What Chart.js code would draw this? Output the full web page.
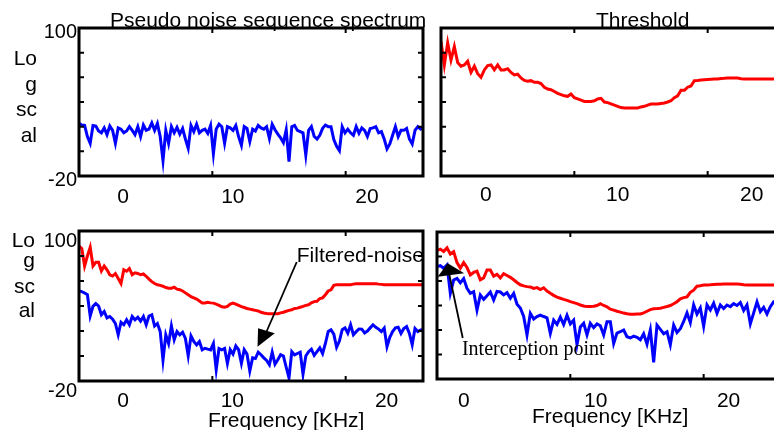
<!DOCTYPE html>
<html>
<head>
<meta charset="utf-8">
<title>Spectrum panels</title>
<script src="https://cdn.jsdelivr.net/npm/chart.js@4.4.1/dist/chart.umd.min.js"></script>
<style>
  html, body { margin: 0; padding: 0; background: #fff; }
  #fig { position: relative; width: 774px; height: 430px; overflow: hidden; }
  #fig canvas { position: absolute; }
</style>
</head>
<body>
<div id="fig">
  <canvas id="pnChart"  width="430" height="215" style="left:0;top:0"></canvas>
  <canvas id="thrChart" width="370" height="215" style="left:430px;top:0"></canvas>
  <canvas id="filtChart" width="430" height="215" style="left:0;top:215px"></canvas>
  <canvas id="icptChart" width="370" height="215" style="left:430px;top:215px"></canvas>
</div>
<script>
// ---- data (levels on the log scale, sampled along each frame) ----
const xMin = 0, xMax = 25.8;
const leftStep = 0.21;   // sample spacing in the two left panels
const rightStep = 0.25;  // sample spacing in the two right panels

// pseudo noise sequence spectrum
const pnLevel = [
  22.7, 21.3, 21, 12, 6.5, 21, 20.5, 16.5, 15, 19,
  13.5, 20.5, 17, 6.5, 19, 18, 15, 16.5, 20, 17,
  13.5, 20, 12, 21.3, 17, 18, 23, 17, 22.5, 12,
  -7.5, 17, 6.5, 20, 15, 19.5, 14, 18.5, 10, 2.5,
  21, 16, 22, 15, 17, 18, 14.5, 21, -2, 18,
  22, 20, 6.5, 20, 19, 17, 21, 12, 5, 20,
  18.5, 8, 18, 16.5, 21, 19, 18, 20, 10.5, 22,
  17.5, 14, 11, 7, 17.5, -8.4, 20, 21, 17, 16,
  15, -3, 17, 20, 12, 10, 13, 18.6, 21.3, 20,
  20, 9.5, 4, 0.5, 20, 15, 18, 15, 13, 20,
  14.6, 19, 17, 12, 18.5, 19, 20, 15, 16, 10,
  2, 6, 13, 20, 12, 17, 17, 18.6, 10, 6,
  17, 20, 18, 18.6
];

// threshold
const thrLevel = [
  89, 70, 88, 74, 85, 72, 69, 70, 73, 64,
  69, 63, 60, 66, 69.5, 70, 66, 70, 66, 66,
  67, 64, 62, 62.5, 59.5, 57.5, 56.8, 57.3, 56, 56,
  55, 52, 50.5, 50, 48.5, 47, 46, 45, 44.6, 46.5,
  43.5, 42.5, 41.5, 40.5, 40.5, 40.5, 41, 42.5, 43, 40,
  39.5, 38.5, 37.5, 36.5, 35.5, 35.1, 35.1, 35.1, 35.1, 35.1,
  36, 36.5, 37.5, 38.4, 38.4, 38.4, 38.8, 39.2, 40, 41,
  43.5, 45, 49.5, 49.5, 52, 53, 57.3, 57.5, 57.8, 58,
  58.2, 58.4, 58.6, 58.6, 59, 59.2, 59.5, 59.5, 59.5, 59.5,
  58.8, 58.6, 58.6, 58.6, 58.6, 58.6, 58.6, 58.6, 58.6, 58.6,
  58.6, 58.6
];

// filtered noise against its threshold
const filtThr = [
  88, 86, 72, 80, 87, 72, 75, 75, 68, 72,
  69, 65, 64, 66, 62, 58, 69, 67.8, 70, 65,
  66.5, 66, 65, 65.6, 63.8, 61.5, 59.5, 58, 57, 56.5,
  55.8, 54.8, 54.3, 54.3, 55, 53.5, 53, 52, 50.5, 49,
  47.5, 46.5, 45.5, 44, 42.5, 42.5, 43, 42.5, 42.3, 41.5,
  40.5, 39.4, 39, 39.7, 41.5, 42.3, 41.5, 40.5, 39.5, 38.8,
  38, 37.5, 37, 36.5, 36, 35, 34.4, 34, 33.8, 33.8,
  33.8, 33.8, 34.5, 35, 35.8, 36.5, 37, 38, 38.3, 39,
  39.7, 40.5, 41, 42.5, 43.5, 43.8, 46, 46.5, 49, 52,
  53, 56.5, 57, 57.1, 57.1, 57.1, 57.1, 57.1, 57.5, 57.8,
  57.8, 57.9, 57.9, 57.9, 57.9, 57.9, 57.9, 57.5, 57.3, 57.1,
  57.1, 57.1, 57.1, 57.1, 57.1, 57.1, 57.1, 57.1, 57.1, 57.1,
  57.1, 57.1, 57.1, 57.1
];
const filtNoise = [
  52, 51.5, 50.4, 49, 32, 39.7, 42, 40, 33, 35.6,
  30.5, 31.6, 29.5, 26, 17, 27, 25, 29, 25, 31.6,
  29, 31, 28, 31.6, 25, 32, 33, 24, 26, 19.6,
  -3.2, 16.9, 10, 24, 13, 19.6, 16.9, 19, 14, 0.2,
  16, 11.6, 8.9, 11.6, 5, 6.2, 5.5, 4.9, 10, -11,
  6, 5, 6, -6, 5, 1.5, 8, 5, -5.8, 5,
  1.5, -12, -1.5, -2, 3, 1, -1.5, -3.5, -7, 3,
  -6.5, -3, 1, 0, -9, -17.5, 3.5, 0.9, 2, 3,
  -14.5, 0, 3.5, 5.5, 0.5, 3.5, 6.5, 2, 10, 19.6,
  20.9, 17.5, 7, 12, 21, 22.5, 18.3, 24.9, 17, 19.5,
  21.6, 21.5, 18.5, 20, 22.5, 25, 23, 21.5, 19.5, 22.3,
  7.5, 15, 19.5, 22.5, 23, 18, 22, 23.5, 18, 9,
  22, 19.6, 20.9, 21
];

// interception: threshold and noise
const icptThr = [
  85, 86, 84, 87, 82, 84, 75, 70.5, 75, 71,
  65, 67, 68, 61, 62.5, 69, 69, 64, 65.5, 62.5,
  66, 64.5, 63, 61, 58.8, 56.9, 56, 55.4, 55.2, 54,
  54.6, 53, 54.5, 51.8, 50, 48.3, 46.8, 45.9, 45, 44.2,
  43.1, 42.3, 41.5, 40.4, 39.6, 39.1, 39.1, 39.4, 40, 41.5,
  40, 39, 37, 36.2, 35.3, 34.6, 33.8, 33.3, 32.9, 32.8,
  33, 33.1, 34, 35.3, 36.6, 37.3, 37.5, 37.8, 38.5, 39.2,
  40, 41.4, 43.1, 45.5, 46.4, 47, 50.8, 52.5, 55.8, 56.2,
  56.7, 56.8, 56.9, 57.1, 57.3, 57.3, 57.5, 57.5, 57.5, 57.5,
  57.5, 57.4, 57, 56.7, 56.7, 56.7, 56.7, 56.7, 56.7, 56.7,
  56.7, 56.7, 56.7
];
const icptNoise = [
  71.7, 72.5, 70.3, 73, 50, 60.8, 62.2, 58.5, 62, 54,
  50, 51.3, 36.3, 48.6, 45, 48, 51, 44.5, 51.5, 51,
  48.6, 50.5, 45.9, 49.9, 41, 38, 31, 16, 33.6, 29,
  31, 32.2, 31, 30, 17.3, 28, 24.5, 30.5, 24.5, 32,
  25, 28, 8, 22.5, 25.5, 16, 25.5, 22, 25, 23.5,
  16, 26.8, 26.8, 9, 17.5, 18.6, 20, 14.5, 13.5, 15,
  14, 12, 17, 8.5, 20, -6.5, 24, 20.5, 17, 18.6,
  8, 24, 18, 21, 27, 34, 26, 40.5, 33, 38,
  23, 40.5, 36.3, 41.8, 33.6, 40.4, 37.5, 40.4, 39, 41.5,
  40, 42.5, 36, 40.5, 25, 34, 43, 35, 38.5, 33,
  39, 43, 43
];

// axis ticks
const yTicks = [-20, 0, 20, 40, 60, 80, 100];
const yLabelled = [100, -20];
const frameMarks = [10, 20];
const tickText = ['0', '10', '20'];
// where the "0 10 20" labels sit along each frame
const pnTickPos   = [3.30, 11.54, 21.6];
const thrTickPos  = [3.37, 13.26, 23.30];
const filtTickPos = [3.30, 11.50, 23.07];
const icptTickPos = [2.02, 11.91, 21.87];

const SANS = '"Liberation Sans", Arial, sans-serif';
const SERIF = '"Liberation Serif", "Times New Roman", serif';
const BLUE = '#0000ff', RED = '#ff0000';

// frame, inward tick marks, arrows and free text
const decor = {
  id: 'decor',
  afterDatasetsDraw(chart, args, opts) {
    const { ctx, chartArea: a, scales: { x, y } } = chart;
    const px = v => x.getPixelForValue(v);
    const py = v => y.getPixelForValue(v);
    ctx.save();
    ctx.strokeStyle = '#000';
    ctx.lineWidth = 3;
    ctx.strokeRect(a.left, a.top, a.right - a.left, a.bottom - a.top);

    ctx.lineWidth = 2;
    ctx.beginPath();
    frameMarks.forEach(v => {
      ctx.moveTo(px(v), a.bottom); ctx.lineTo(px(v), a.bottom - 5);
      ctx.moveTo(px(v), a.top); ctx.lineTo(px(v), a.top + 5);
    });
    yTicks.forEach(v => {
      ctx.moveTo(a.left, py(v)); ctx.lineTo(a.left + 5, py(v));
      ctx.moveTo(a.right, py(v)); ctx.lineTo(a.right - 5, py(v));
    });
    ctx.stroke();

    (opts.arrows || []).forEach(ar => {
      ctx.fillStyle = '#000';
      ctx.lineWidth = 1.8;
      ctx.beginPath();
      ctx.moveTo(px(ar.from[0]), py(ar.from[1]));
      ctx.lineTo(px(ar.to[0]), py(ar.to[1]));
      ctx.stroke();
      ctx.beginPath();
      ar.head.forEach((p, i) => (i ? ctx.lineTo : ctx.moveTo).call(ctx, px(p[0]), py(p[1])));
      ctx.closePath();
      ctx.fill();
    });

    (opts.texts || []).forEach(t => {
      ctx.font = t.font || '21px ' + SANS;
      ctx.fillStyle = '#000';
      ctx.textAlign = t.align || 'left';
      ctx.textBaseline = 'alphabetic';
      const tx = t.data ? px(t.x) : t.x;
      const ty = t.data ? py(t.y) : t.y;
      ctx.fillText(t.text, tx, ty);
    });
    ctx.restore();
  }
};

function series(values, step, color) {
  return {
    data: values.map((v, i) => ({ x: xMin + i * step, y: v })),
    borderColor: color,
    borderWidth: 3,
    pointRadius: 0,
    tension: 0,
    fill: false
  };
}

function panel(id, cfg) {
  return new Chart(document.getElementById(id), {
    type: 'line',
    data: { datasets: cfg.datasets },
    options: {
      responsive: false,
      animation: false,
      events: [],
      layout: { padding: cfg.padding },
      plugins: {
        legend: { display: false },
        tooltip: { enabled: false },
        decor: { texts: cfg.texts, arrows: cfg.arrows }
      },
      scales: {
        x: {
          type: 'linear', min: xMin, max: xMax,
          grid: { display: false, drawTicks: false },
          border: { display: false },
          afterBuildTicks: s => { s.ticks = cfg.tickPos.map(v => ({ value: v })); },
          afterFit: s => { s.height = cfg.xHeight; },
          ticks: {
            autoSkip: false, maxRotation: 0, color: '#000',
            padding: cfg.xPad,
            font: { family: SANS, size: 21 },
            callback: (v, i) => tickText[i]
          }
        },
        y: {
          type: 'linear', min: -20, max: 100,
          grid: { display: false, drawTicks: false },
          border: { display: false },
          afterBuildTicks: s => { s.ticks = yTicks.map(v => ({ value: v })); },
          afterFit: s => { s.width = cfg.yWidth; },
          ticks: {
            display: cfg.yLabels, color: '#000', padding: 2,
            labelOffset: cfg.yOffset || 0,
            font: { family: SANS, size: 20 },
            callback: v => (yLabelled.includes(v) ? String(v) : '')
          }
        }
      }
    },
    plugins: [decor]
  });
}

function ylabelLines(x, baselines) {
  return ['Lo', 'g', 'sc', 'al'].map((s, i) => ({ text: s, x: x, y: baselines[i], align: 'right' }));
}

panel('pnChart', {
  datasets: [series(pnLevel, leftStep, BLUE)],
  padding: { left: 0, right: 7, top: 28, bottom: 0 },
  yWidth: 79, xHeight: 39, xPad: 9, yLabels: true, yOffset: 4.5,
  tickPos: pnTickPos,
  texts: [{ text: 'Pseudo noise sequence spectrum', x: 110, y: 27 }]
    .concat(ylabelLines(37, [65, 90.5, 116, 141.5]))
});

panel('thrChart', {
  datasets: [series(thrLevel, rightStep, RED)],
  padding: { left: 0, right: 15, top: 28, bottom: 0 },
  yWidth: 11, xHeight: 39, xPad: 7, yLabels: false,
  tickPos: thrTickPos,
  texts: [{ text: 'Threshold', x: 166, y: 27 }]
});

panel('filtChart', {
  datasets: [series(filtThr, leftStep, RED), series(filtNoise, leftStep, BLUE)],
  padding: { left: 0, right: 7, top: 16, bottom: 0 },
  yWidth: 79, xHeight: 49, xPad: 8, yLabels: true, yOffset: 10,
  tickPos: filtTickPos,
  texts: [
    { text: 'Frequency [KHz]', x: 208, y: 212 },
    { text: 'Filtered-noise', x: 16.33, y: 75.4, data: true }
  ].concat(ylabelLines(35, [31.7, 52, 78.3, 101.7])),
  arrows: [{
    from: [16.33, 75.2], to: [14.06, 19.4],
    head: [[13.39, 7.4], [13.43, 22.2], [14.68, 18.2]]
  }]
});

panel('icptChart', {
  datasets: [series(icptThr, rightStep, RED), series(icptNoise, rightStep, BLUE)],
  padding: { left: 0, right: 19, top: 17, bottom: 0 },
  yWidth: 7, xHeight: 51, xPad: 10, yLabels: false,
  tickPos: icptTickPos,
  texts: [
    { text: 'Frequency [KHz]', x: 102, y: 208 },
    { text: 'Interception point', x: 1.87, y: -0.4, data: true, font: '20px ' + SERIF }
  ],
  arrows: [{
    from: [1.93, 13.5], to: [0.88, 67.6],
    head: [[0.05, 63.5], [0.80, 74.4], [2.04, 66.3]]
  }]
});
</script>
</body>
</html>
